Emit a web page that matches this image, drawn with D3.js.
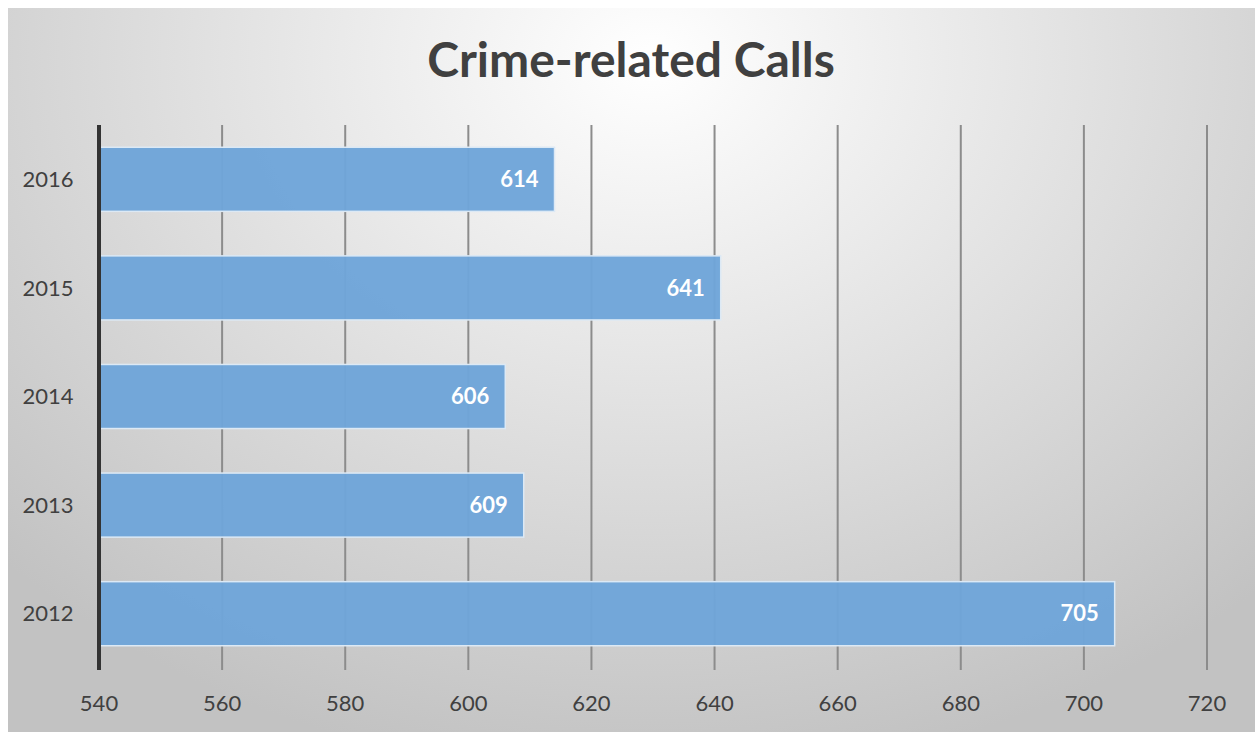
<!DOCTYPE html>
<html><head><meta charset="utf-8">
<script src="https://cdn.jsdelivr.net/npm/d3@7"></script>
<style>body{margin:0;background:#fff}svg{display:block}</style>
</head><body><svg id="c" width="1255" height="732"></svg>
<script>
const title = "Crime-related Calls";
const categories = ["2016","2015","2014","2013","2012"];
const values = [614, 641, 606, 609, 705];
const tickValues = [540,560,580,600,620,640,660,680,700,720];

const svg = d3.select("#c");
const defs = svg.append("defs");
const g = defs.append("radialGradient").attr("id","bg").attr("gradientUnits","userSpaceOnUse")
  .attr("cx",650).attr("cy",60).attr("r",900).attr("gradientTransform","matrix(1,0,0,0.8,0,12)");
g.append("stop").attr("offset","0%").attr("stop-color","#ffffff");
g.append("stop").attr("offset","100%").attr("stop-color","#c2c2c2");
svg.append("rect").attr("x",8).attr("y",8).attr("width",1247).attr("height",724).attr("fill","url(#bg)");

const x = d3.scaleLinear().domain([540,720]).range([99,1207]);
const y = d3.scaleBand().domain(categories).range([125,668]).paddingInner(0.41).paddingOuter(0.205);

svg.append("text").attr("x",631).attr("y",77).attr("text-anchor","middle")
  .attr("font-family","Lato, 'Open Sans', sans-serif").attr("font-weight","bold")
  .attr("font-size",48).attr("fill","#404040").text(title);

// gridlines
svg.append("g").selectAll("line").data(tickValues.slice(1)).join("line")
  .attr("x1",d=>x(d)).attr("x2",d=>x(d)).attr("y1",125).attr("y2",670)
  .attr("stroke","#8c8c8c").attr("stroke-width",2);

// bars
svg.append("g").selectAll("rect").data(values).join("rect")
  .attr("x",x(540)).attr("y",(d,i)=>y(categories[i]))
  .attr("width",d=>x(d)-x(540)).attr("height",y.bandwidth())
  .attr("fill","#6fa5d9").attr("fill-opacity",0.97)
  .attr("stroke","#dce9f5").attr("stroke-width",1.5);

// value labels
svg.append("g").selectAll("text").data(values).join("text")
  .attr("x",d=>x(d)-16).attr("y",(d,i)=>y(categories[i])+y.bandwidth()/2)
  .attr("dy","0.35em").attr("text-anchor","end")
  .attr("font-family","Lato, 'Open Sans', sans-serif").attr("font-weight","bold")
  .attr("font-size",22).attr("fill","#ffffff").text(d=>d);

// axis line
svg.append("line").attr("x1",99).attr("x2",99).attr("y1",125).attr("y2",670)
  .attr("stroke","#333333").attr("stroke-width",4);

// category labels
svg.append("g").selectAll("text").data(categories).join("text")
  .attr("x",48).attr("y",d=>y(d)+y.bandwidth()/2).attr("dy","0.35em").attr("text-anchor","middle")
  .attr("font-family","Lato, 'Open Sans', sans-serif").attr("font-size",22).attr("fill","#404040").text(d=>d);

// x tick labels
svg.append("g").selectAll("text").data(tickValues).join("text")
  .attr("x",d=>x(d)).attr("y",703).attr("dy","0.35em").attr("text-anchor","middle")
  .attr("font-family","Lato, 'Open Sans', sans-serif").attr("font-size",22).attr("fill","#404040").text(d=>d);
</script></body></html>
